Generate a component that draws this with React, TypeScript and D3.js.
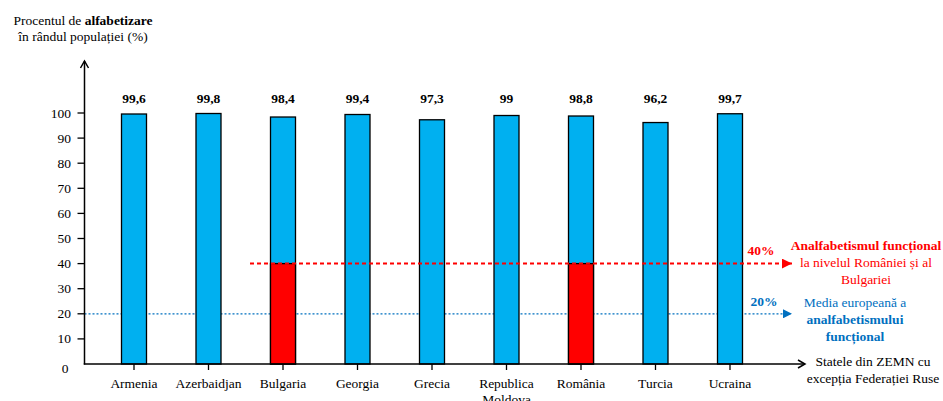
import React from "react";
import * as d3 from "d3";

const categories = ["Armenia", "Azerbaidjan", "Bulgaria", "Georgia", "Grecia", "Republica Moldova", "România", "Turcia", "Ucraina"];
const literacy = [99.6, 99.8, 98.4, 99.4, 97.3, 99, 98.8, 96.2, 99.7];
const literacyLabels = ["99,6", "99,8", "98,4", "99,4", "97,3", "99", "98,8", "96,2", "99,7"];
const functionalIlliteracy = [null, null, 40, null, null, null, 40, null, null];
const yTicks = [10, 20, 30, 40, 50, 60, 70, 80, 90, 100];
const redLevel = 40;
const blueLevel = 20;

const W = 943;
const H = 401;
const FONT = "Liberation Serif";

export default function App() {
  const y = d3.scaleLinear().domain([0, 100]).range([364, 113]);
  const x = d3.scalePoint<string>().domain(categories).range([134, 730]);
  const bw = 25;
  const axisX = 84.5;
  const axisY = y(0);

  return (
    <svg width={W} height={H} style={{ position: "absolute", left: 0, top: 0, display: "block", background: "#fff", fontFamily: FONT }}>
      <defs>
        <marker id="redArrow" viewBox="0 0 10 10" refX="10" refY="5" markerWidth="5" markerHeight="5" orient="auto" markerUnits="strokeWidth">
          <path d="M0,0 L10,5 L0,10 z" fill="#FF0000" />
        </marker>
        <marker id="blueArrow" viewBox="0 0 10 10" refX="10" refY="5" markerWidth="7" markerHeight="7" orient="auto" markerUnits="strokeWidth">
          <path d="M0,0 L10,5 L0,10 z" fill="#0070C0" />
        </marker>
      </defs>

      <g style={{ fontFamily: FONT }}>
        {/* title */}
        <text x={83} y={25} textAnchor="middle" fontSize={13.5} fill="#000">
          Procentul de <tspan fontWeight="bold">alfabetizare</tspan>
        </text>
        <text x={83} y={41} textAnchor="middle" fontSize={13.5} fill="#000">în rândul populației (%)</text>

        {/* blue dotted line (behind bars) */}
        <line x1={axisX} x2={792} y1={y(blueLevel)} y2={y(blueLevel)} stroke="#0070C0" strokeWidth={1.3} strokeDasharray="2,2" markerEnd="url(#blueArrow)" />

        {/* bars */}
        {categories.map((c, i) => {
          const cx = x(c)!;
          const fi = functionalIlliteracy[i];
          return (
            <g key={c}>
              <rect x={cx - bw / 2} y={y(literacy[i])} width={bw} height={axisY - y(literacy[i])} fill="#00B0F0" stroke="#000" strokeWidth={1.3} />
              {fi !== null && (
                <rect x={cx - bw / 2} y={y(fi)} width={bw} height={axisY - y(fi)} fill="#FF0000" stroke="#000" strokeWidth={1.3} />
              )}
              <text x={cx} y={103} textAnchor="middle" fontSize={13.5} fontWeight="bold" fill="#000">{literacyLabels[i]}</text>
            </g>
          );
        })}

        {/* red dashed line (over bars) */}
        <line x1={250} x2={792} y1={y(redLevel)} y2={y(redLevel)} stroke="#FF0000" strokeWidth={2} strokeDasharray="4,3" markerEnd="url(#redArrow)" />

        {/* y axis */}
        <line x1={axisX} x2={axisX} y1={axisY + 0.5} y2={61} stroke="#000" strokeWidth={1.5} />
        <path d={`M${axisX - 4},${68} L${axisX},${61} L${axisX + 4},${68}`} fill="none" stroke="#000" strokeWidth={1.5} />
        {yTicks.map((t) => (
          <g key={t}>
            <line x1={axisX - 7} x2={axisX} y1={y(t)} y2={y(t)} stroke="#000" strokeWidth={1.3} />
            <text x={71} y={y(t) + 4.5} textAnchor="end" fontSize={13.5} fill="#000">{t}</text>
          </g>
        ))}
        <text x={65} y={373} textAnchor="middle" fontSize={13.5} fill="#000">0</text>

        {/* x axis */}
        <line x1={axisX - 0.75} x2={805} y1={axisY} y2={axisY} stroke="#000" strokeWidth={1.5} />
        <path d={`M${798},${axisY - 4} L${805},${axisY} L${798},${axisY + 4}`} fill="none" stroke="#000" strokeWidth={1.5} />
        {categories.map((c) => {
          const cx = x(c)!;
          const parts = c === "Republica Moldova" ? ["Republica", "Moldova"] : [c];
          return (
            <g key={c}>
              <line x1={cx} x2={cx} y1={axisY} y2={axisY + 6} stroke="#000" strokeWidth={1.3} />
              {parts.map((p, j) => (
                <text key={p} x={cx} y={388 + j * 16} textAnchor="middle" fontSize={13.5} fill="#000">{p}</text>
              ))}
            </g>
          );
        })}
        <text x={873} y={366} textAnchor="middle" fontSize={13.5} fill="#000">Statele din ZEMN cu</text>
        <text x={873} y={383} textAnchor="middle" fontSize={13.5} fill="#000">excepția Federației Ruse</text>

        {/* red annotation */}
        <text x={761} y={255} textAnchor="middle" fontSize={13.5} fontWeight="bold" fill="#FF0000">40%</text>
        <text x={866} y={250} textAnchor="middle" fontSize={13.5} fontWeight="bold" fill="#FF0000">Analfabetismul funcțional</text>
        <text x={866} y={267} textAnchor="middle" fontSize={13.5} fill="#FF0000">la nivelul României și al</text>
        <text x={866} y={284} textAnchor="middle" fontSize={13.5} fill="#FF0000">Bulgariei</text>

        {/* blue annotation */}
        <text x={764} y={306} textAnchor="middle" fontSize={13.5} fontWeight="bold" fill="#0070C0">20%</text>
        <text x={855} y={307} textAnchor="middle" fontSize={13.5} fill="#0070C0">Media europeană a</text>
        <text x={855} y={324} textAnchor="middle" fontSize={13.5} fontWeight="bold" fill="#0070C0">analfabetismului</text>
        <text x={855} y={341} textAnchor="middle" fontSize={13.5} fontWeight="bold" fill="#0070C0">funcțional</text>
      </g>
    </svg>
  );
}
